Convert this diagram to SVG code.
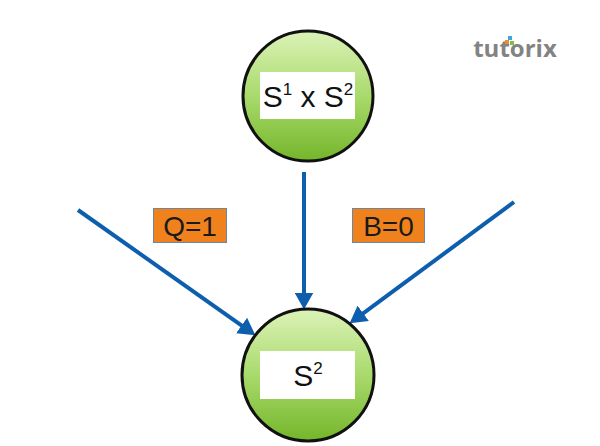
<svg xmlns="http://www.w3.org/2000/svg" width="600" height="446" viewBox="0 0 600 446">
<defs>
<linearGradient id="g" x1="0" y1="0" x2="0" y2="1">
<stop offset="0" stop-color="#dcf3b8"/>
<stop offset="0.5" stop-color="#a9da6c"/>
<stop offset="1" stop-color="#74b62a"/>
</linearGradient>
<marker id="ah" viewBox="0 0 16 18" refX="8" refY="9" markerWidth="17" markerHeight="19" markerUnits="userSpaceOnUse" orient="auto">
<path d="M0,0 L16,9 L0,18 z" fill="#0d5fae"/>
</marker>
<style>
.node circle{fill:url(#g);stroke:#111;stroke-width:3}
.node rect{fill:#fff}
.t{font-family:"Liberation Sans",Arial,sans-serif;fill:#111;text-anchor:middle}
.big{font-size:30px}
.sup{font-size:17px}
.conn line{stroke:#0d5fae;stroke-width:4;fill:none;marker-end:url(#ah)}
.lab rect{fill:#f0821e;stroke:#6a86a8;stroke-width:1}
.lab text{font-family:"Liberation Sans",Arial,sans-serif;font-size:28px;fill:#1a1a1a;text-anchor:middle}
</style>
</defs>
<rect width="600" height="446" fill="#fff"/>
<g id="logo">
<text x="515" y="57" font-family="'Open Sans','Liberation Sans',sans-serif" font-size="24" font-weight="bold" fill="#838383" text-anchor="middle">tutorix</text>
<rect x="508" y="36" width="4" height="4" fill="#3aa7e0"/>
<rect x="505" y="40" width="4" height="4" fill="#f08a2a"/>
<rect x="510" y="41" width="4" height="4" fill="#7cc242"/>
</g>
<g id="connectors" class="conn">
<line x1="78" y1="210" x2="248.5" y2="330.4"/>
<line x1="304" y1="172" x2="304" y2="301"/>
<line x1="514" y1="202" x2="356.4" y2="318.3"/>
</g>
<g id="node-s1xs2" class="node">
<circle cx="308" cy="96" r="65"/>
<rect x="260" y="72" width="95" height="47"/>
<text class="t big" x="308" y="107">S<tspan class="sup" dy="-12">1</tspan><tspan dy="12"> x S</tspan><tspan class="sup" dy="-12">2</tspan></text>
</g>
<g id="node-s2" class="node">
<circle cx="308" cy="375" r="66"/>
<rect x="260" y="351" width="95" height="48"/>
<text class="t big" x="308" y="386">S<tspan class="sup" dy="-12">2</tspan></text>
</g>
<g id="label-q" class="lab">
<rect x="153.5" y="208.5" width="73" height="34"/>
<text x="190" y="236">Q=1</text>
</g>
<g id="label-b" class="lab">
<rect x="352.5" y="208.5" width="72" height="34"/>
<text x="388.5" y="236">B=0</text>
</g>
</svg>
